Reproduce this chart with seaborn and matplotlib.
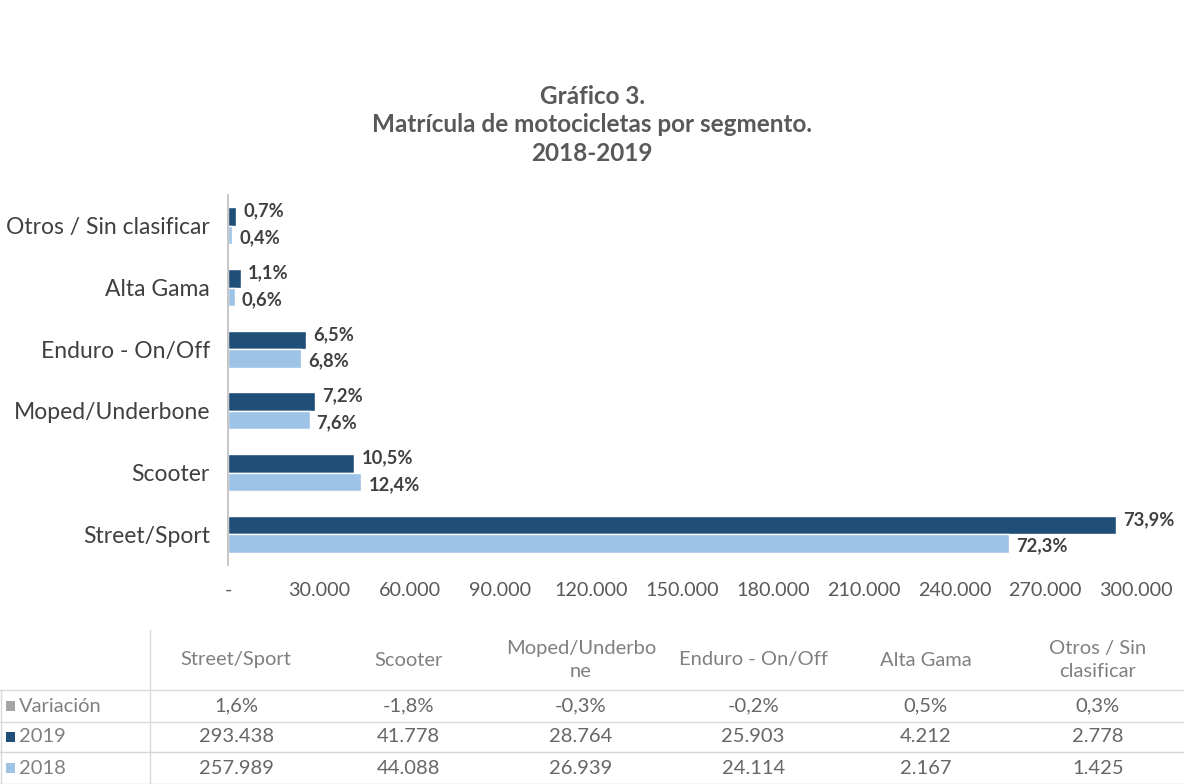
import matplotlib
matplotlib.use("Agg")
import matplotlib.pyplot as plt
import matplotlib.ticker as mticker
from matplotlib.patches import Rectangle
import seaborn as sns
import pandas as pd

# ---------------- data ----------------
categories = ["Street/Sport", "Scooter", "Moped/Underbone", "Enduro - On/Off",
              "Alta Gama", "Otros / Sin clasificar"]
header_labels = ["Street/Sport", "Scooter", "Moped/Underbo\nne", "Enduro - On/Off",
                 "Alta Gama", "Otros / Sin\nclasificar"]
values_2019 = [293438, 41778, 28764, 25903, 4212, 2778]
values_2018 = [257989, 44088, 26939, 24114, 2167, 1425]
share_2019 = ["73,9%", "10,5%", "7,2%", "6,5%", "1,1%", "0,7%"]
share_2018 = ["72,3%", "12,4%", "7,6%", "6,8%", "0,6%", "0,4%"]
variacion = ["1,6%", "-1,8%", "-0,3%", "-0,2%", "0,5%", "0,3%"]
years = ["2019", "2018"]
x_ticks = [0, 30000, 60000, 90000, 120000, 150000, 180000, 210000, 240000, 270000, 300000]

title = "Gráfico 3.\nMatrícula de motocicletas por segmento.\n2018-2019"

C2019 = "#1F4E79"
C2018 = "#9DC3E6"
CVAR = "#A5A5A5"
TXT = "#404040"
GRID = "#D9D9D9"

df = pd.DataFrame({
    "Segmento": categories * 2,
    "Año": ["2019"] * len(categories) + ["2018"] * len(categories),
    "Valor": values_2019 + values_2018,
})

sns.set_theme(style="white")
plt.rcParams["font.family"] = ["Lato", "DejaVu Sans"]

fig = plt.figure(figsize=(11.84, 7.84), dpi=100)
fig.patch.set_facecolor("white")

ax = fig.add_axes([228 / 1184, 1 - 565 / 784, (1136 - 228) / 1184, (565 - 195) / 784])
order = categories[::-1]
sns.barplot(data=df, y="Segmento", x="Valor", hue="Año", order=order,
            hue_order=years, palette=[C2019, C2018], orient="h",
            width=0.6, dodge=True, ax=ax, legend=False, saturation=1)

ax.set_xlim(0, 300000)
ax.set_xticks(x_ticks)
ax.xaxis.set_major_formatter(mticker.FuncFormatter(
    lambda v, p: "-" if v == 0 else f"{int(v):,}".replace(",", ".")))
ax.set_xlabel("")
ax.set_ylabel("")
for s in ["top", "right", "bottom"]:
    ax.spines[s].set_visible(False)
ax.spines["left"].set_color("#BFBFBF")
ax.tick_params(axis="y", labelsize=16.5, labelcolor=TXT, length=0, pad=13)
ax.tick_params(axis="x", labelsize=14.2, labelcolor="#595959", length=0, pad=12)

# bar labels
labels_by_year = {"2019": share_2019, "2018": share_2018}
for cont, yr in zip(ax.containers, years):
    labs = labels_by_year[yr]
    lab_map = dict(zip(categories, labs))
    for bar, cat in zip(cont, order):
        w = bar.get_width()
        yc = bar.get_y() + bar.get_height() / 2
        dy = 4 if yr == "2019" else -2
        ax.annotate(lab_map[cat], (w, yc), xytext=(5, dy), textcoords="offset points",
                    ha="left", va="center", fontsize=13.2, fontweight="bold",
                    color=TXT, annotation_clip=False)

fig.text(0.5, 1 - 125 / 784, title, ha="center", va="center", fontsize=17.5,
         fontweight="bold", color="#595959", linespacing=1.3)

# ---------------- data table ----------------
tax = fig.add_axes([0, 0, 1, 154 / 784])
tax.set_xlim(0, 1)
tax.set_ylim(0, 1)
tax.axis("off")

label_w = 150 / 1184
col_w = (1 - label_w) / len(categories)
row_edges = [1.0, 94 / 154, 62 / 154, 32 / 154, 0.0]
row_names = ["Variación", "2019", "2018"]
row_colors = [CVAR, C2019, C2018]
row_data = [variacion,
            [f"{v:,}".replace(",", ".") for v in values_2019],
            [f"{v:,}".replace(",", ".") for v in values_2018]]

# grid lines
for yv in row_edges[1:]:
    tax.plot([0, 1], [yv, yv], color=GRID, lw=1, clip_on=False)
tax.plot([label_w, label_w], [0, 1], color=GRID, lw=1)
tax.plot([0.001, 0.001], [0, row_edges[1]], color=GRID, lw=1)

for i, h in enumerate(header_labels):
    xc = label_w + (i + 0.5) * col_w
    tax.text(xc, (row_edges[0] + row_edges[1]) / 2, h, ha="center", va="center",
             fontsize=14.5, color="#808080", linespacing=1.45)

for r, (name, colr, vals) in enumerate(zip(row_names, row_colors, row_data)):
    yc = (row_edges[r + 1] + row_edges[r + 2]) / 2
    tax.add_patch(Rectangle((0.005, yc - 0.032), 0.008, 0.064,
                            facecolor=colr, edgecolor="none"))
    tax.text(0.016, yc, name, ha="left", va="center", fontsize=14.5, color="#808080")
    for i, v in enumerate(vals):
        xc = label_w + (i + 0.5) * col_w
        tax.text(xc, yc, v, ha="center", va="center", fontsize=14.5, color="#666666")

fig.savefig("out.png", dpi=100, facecolor="white")
